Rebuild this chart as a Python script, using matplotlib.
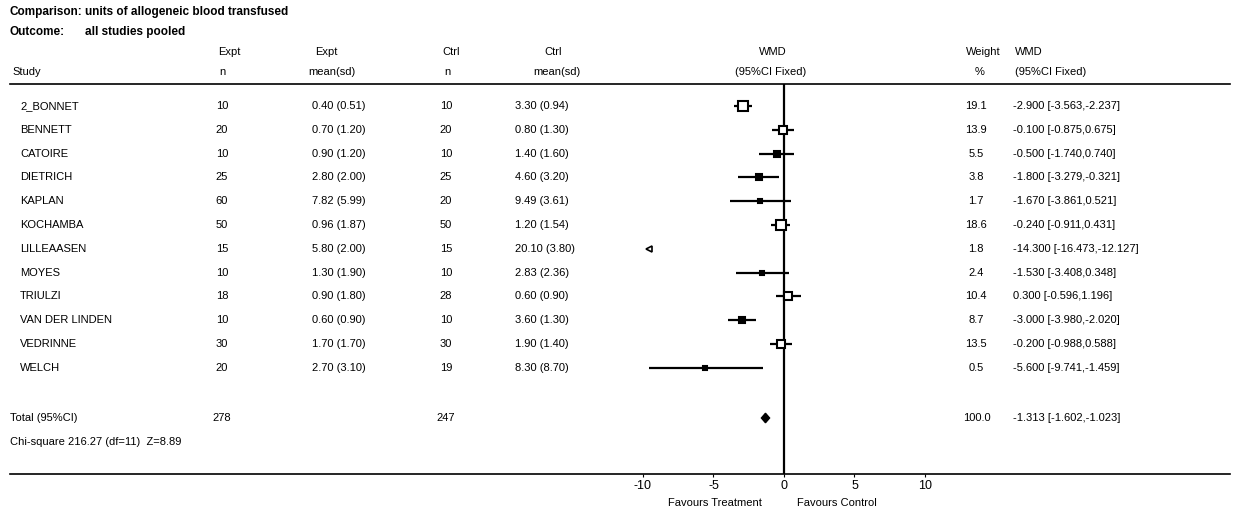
import matplotlib
matplotlib.use('Agg')
import matplotlib.pyplot as plt
from matplotlib.patches import Polygon
from matplotlib.lines import Line2D
from matplotlib.transforms import blended_transform_factory
import numpy as np

plt.rcParams['font.family'] = ['Liberation Sans', 'DejaVu Sans']
plt.rcParams['axes.unicode_minus'] = False

# study-level data (units of allogeneic blood transfused)
studies = ['2_BONNET', 'BENNETT', 'CATOIRE', 'DIETRICH', 'KAPLAN', 'KOCHAMBA',
           'LILLEAASEN', 'MOYES', 'TRIULZI', 'VAN DER LINDEN', 'VEDRINNE', 'WELCH']
expt_n = [10, 20, 10, 25, 60, 50, 15, 10, 18, 10, 30, 20]
expt_mean = [0.40, 0.70, 0.90, 2.80, 7.82, 0.96, 5.80, 1.30, 0.90, 0.60, 1.70, 2.70]
expt_sd = [0.51, 1.20, 1.20, 2.00, 5.99, 1.87, 2.00, 1.90, 1.80, 0.90, 1.70, 3.10]
ctrl_n = [10, 20, 10, 25, 20, 50, 15, 10, 28, 10, 30, 19]
ctrl_mean = [3.30, 0.80, 1.40, 4.60, 9.49, 1.20, 20.10, 2.83, 0.60, 3.60, 1.90, 8.30]
ctrl_sd = [0.94, 1.30, 1.60, 3.20, 3.61, 1.54, 3.80, 2.36, 0.90, 1.30, 1.40, 8.70]
weight = [19.1, 13.9, 5.5, 3.8, 1.7, 18.6, 1.8, 2.4, 10.4, 8.7, 13.5, 0.5]
wmd = [-2.900, -0.100, -0.500, -1.800, -1.670, -0.240, -14.300, -1.530, 0.300, -3.000, -0.200, -5.600]
ci_lo = [-3.563, -0.875, -1.740, -3.279, -3.861, -0.911, -16.473, -3.408, -0.596, -3.980, -0.988, -9.741]
ci_hi = [-2.237, 0.675, 0.740, -0.321, 0.521, 0.431, -12.127, 0.348, 1.196, -2.020, 0.588, -1.459]

total_expt_n = 278
total_ctrl_n = 247
total_weight = 100.0
total_wmd = -1.313
total_lo = -1.602
total_hi = -1.023
chi_text = 'Chi-square 216.27 (df=11)  Z=8.89'

xticks = [-10, -5, 0, 5, 10]

W, H = 1238, 517
fig = plt.figure(figsize=(W / 100, H / 100), dpi=100)

def fx(px):
    return px / W

def fy(py):
    return 1 - py / H

# forest plot axes: 0 at x=784px, 14.1 px per unit
zero_px, unit_px = 784, 14.1
xmin, xmax = -12, 12
row0, row_h = 106, 23.8
top_px, bot_px = 84, 474
ax = fig.add_axes([fx(zero_px + xmin * unit_px), fy(bot_px),
                   (xmax - xmin) * unit_px / W, (bot_px - top_px) / H])
ax.set_xlim(xmin, xmax)
ax.set_ylim((bot_px - row0) / row_h, (top_px - row0) / row_h)
for s in ax.spines.values():
    s.set_visible(False)
ax.set_yticks([])
ax.set_xticks(xticks)
ax.tick_params(axis='x', direction='out', length=2, width=0.8, pad=2, labelsize=9)
ax.patch.set_alpha(0)

ax.axvline(0, color='black', lw=1.6)

rows = np.arange(len(studies))
total_row = (418 - row0) / row_h
chi_row = (442 - row0) / row_h
left_clip = -9.6

for i in rows:
    lo = max(ci_lo[i], left_clip)
    hi = ci_hi[i]
    if wmd[i] < left_clip:
        # estimate off the scale: arrow at the left edge
        ax.plot([left_clip], [i], marker='<', ms=5, mfc='white', mec='black', mew=1.2)
        continue
    ax.plot([lo, hi], [i, i], color='black', lw=1.6, solid_capstyle='butt')
    ms = 3 + 0.2 * weight[i]
    face = 'white' if weight[i] >= 10 else 'black'
    ax.plot([wmd[i]], [i], marker='s', ms=ms, mfc=face, mec='black', mew=1.5)

dh = 0.2
ax.add_patch(Polygon([[total_lo, total_row], [total_wmd, total_row - dh],
                      [total_hi, total_row], [total_wmd, total_row + dh]],
                     closed=True, facecolor='black', edgecolor='black', lw=1))

# horizontal rules across the whole table
fig.add_artist(Line2D([fx(10), fx(1230)], [fy(84), fy(84)], color='black', lw=1.2))
fig.add_artist(Line2D([fx(10), fx(1230)], [fy(474), fy(474)], color='black', lw=1.2))

fs = 8
# title block
fig.text(fx(10), fy(12), 'Comparison:', fontsize=8.5, fontweight='bold', va='center')
fig.text(fx(85), fy(12), 'units of allogeneic blood transfused', fontsize=8.5,
         fontweight='bold', va='center')
fig.text(fx(10), fy(32), 'Outcome:', fontsize=8.5, fontweight='bold', va='center')
fig.text(fx(85), fy(32), 'all studies pooled', fontsize=8.5, fontweight='bold', va='center')

# column headers
h1, h2 = 52, 72
fig.text(fx(12), fy(h2), 'Study', fontsize=fs, va='center')
fig.text(fx(229), fy(h1), 'Expt', fontsize=fs, va='center', ha='center')
fig.text(fx(222), fy(h2), 'n', fontsize=fs, va='center', ha='center')
fig.text(fx(326), fy(h1), 'Expt', fontsize=fs, va='center', ha='center')
fig.text(fx(332), fy(h2), 'mean(sd)', fontsize=fs, va='center', ha='center')
fig.text(fx(451), fy(h1), 'Ctrl', fontsize=fs, va='center', ha='center')
fig.text(fx(447), fy(h2), 'n', fontsize=fs, va='center', ha='center')
fig.text(fx(553), fy(h1), 'Ctrl', fontsize=fs, va='center', ha='center')
fig.text(fx(557), fy(h2), 'mean(sd)', fontsize=fs, va='center', ha='center')
fig.text(fx(773), fy(h1), 'WMD', fontsize=fs, va='center', ha='center')
fig.text(fx(771), fy(h2), '(95%CI Fixed)', fontsize=fs, va='center', ha='center')
fig.text(fx(983), fy(h1), 'Weight', fontsize=fs, va='center', ha='center')
fig.text(fx(980), fy(h2), '%', fontsize=fs, va='center', ha='center')
fig.text(fx(1015), fy(h1), 'WMD', fontsize=fs, va='center')
fig.text(fx(1015), fy(h2), '(95%CI Fixed)', fontsize=fs, va='center')

# table body, rows share the forest y scale
tr = blended_transform_factory(fig.transFigure, ax.transData)
for i in rows:
    kw = dict(transform=tr, fontsize=fs, va='center', clip_on=False)
    ax.text(fx(20), i, studies[i], **kw)
    ax.text(fx(222), i, f'{expt_n[i]}', ha='center', **kw)
    ax.text(fx(312), i, f'{expt_mean[i]:.2f} ({expt_sd[i]:.2f})', **kw)
    ax.text(fx(446), i, f'{ctrl_n[i]}', ha='center', **kw)
    ax.text(fx(515), i, f'{ctrl_mean[i]:.2f} ({ctrl_sd[i]:.2f})', **kw)
    ax.text(fx(976), i, f'{weight[i]:.1f}', ha='center', **kw)
    ax.text(fx(1013), i, f'{wmd[i]:.3f} [{ci_lo[i]:.3f},{ci_hi[i]:.3f}]', **kw)

kw = dict(transform=tr, fontsize=fs, va='center', clip_on=False)
ax.text(fx(10), total_row, 'Total (95%CI)', **kw)
ax.text(fx(222), total_row, f'{total_expt_n}', ha='center', **kw)
ax.text(fx(446), total_row, f'{total_ctrl_n}', ha='center', **kw)
ax.text(fx(977), total_row, f'{total_weight:.1f}', ha='center', **kw)
ax.text(fx(1013), total_row, f'{total_wmd:.3f} [{total_lo:.3f},{total_hi:.3f}]', **kw)
ax.text(fx(10), chi_row, chi_text, **kw)

# favours labels under the axis
fig.text(fx(762), fy(503), 'Favours Treatment', fontsize=fs, va='center', ha='right')
fig.text(fx(797), fy(503), 'Favours Control', fontsize=fs, va='center', ha='left')

fig.savefig('out.png', dpi=100)
